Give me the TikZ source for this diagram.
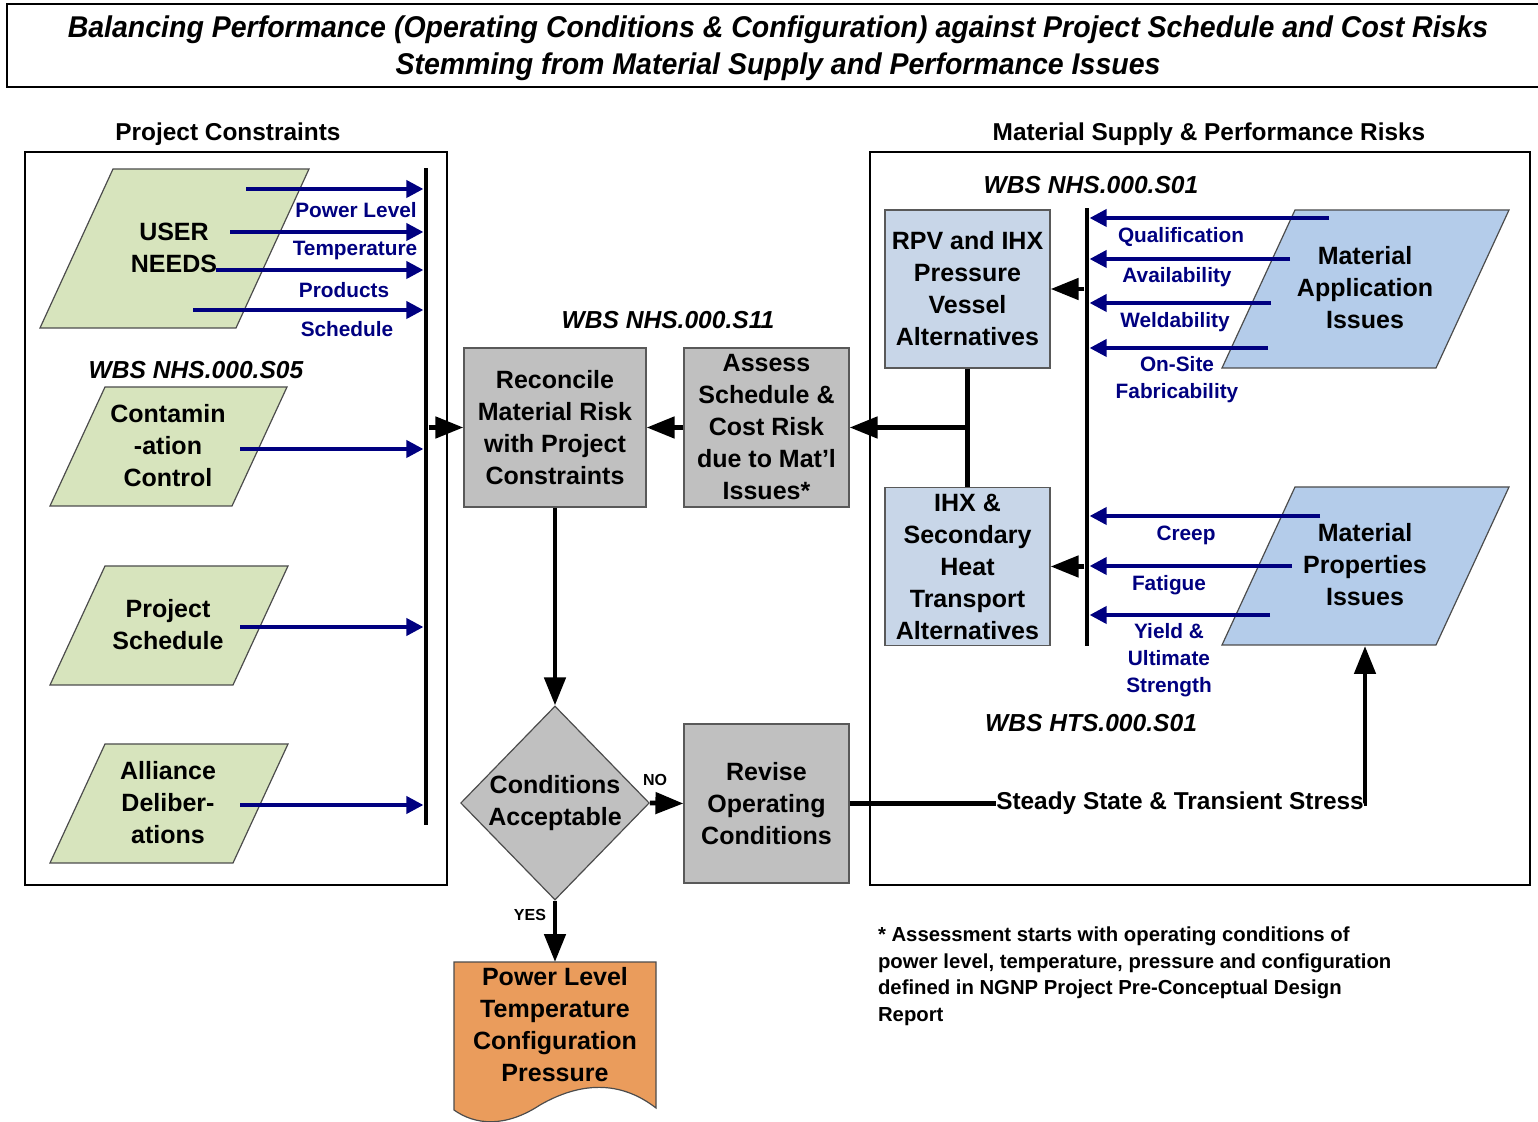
\documentclass[tikz,border=0pt]{standalone}
\usepackage{fontspec}
\setmainfont{Liberation Sans}
\newfontfamily\titlefam[FakeStretch=0.95]{Liberation Sans}
\usepackage{xcolor}
\usepackage{tikz}
\usetikzlibrary{arrows.meta, positioning, calc, shapes.geometric}
\definecolor{navy}{RGB}{0,0,128}
\definecolor{boxgray}{RGB}{192,192,192}
\definecolor{paleblue}{RGB}{200,214,232}
\definecolor{skyfill}{RGB}{180,204,234}
\definecolor{sage}{RGB}{215,228,189}
\definecolor{docorange}{RGB}{234,156,92}
\newcommand\fntbox{\bfseries\fontsize{12.5}{16}\selectfont}
\newcommand\fntrisk{\bfseries\fontsize{10.4}{13.5}\selectfont}
\newcommand\fnthead{\bfseries\fontsize{12.2}{14}\selectfont}
\newcommand\fntwbs{\bfseries\itshape\fontsize{12.3}{14}\selectfont}
\newcommand\fntnote{\bfseries\fontsize{10.15}{13.3}\selectfont}
\newcommand\fntyn{\bfseries\fontsize{8}{10}\selectfont}
\newcommand\fnttitle{\titlefam\bfseries\itshape\fontsize{15}{18.5}\selectfont}
\newcommand\fntstress{\bfseries\fontsize{12.2}{14}\selectfont}
\tikzset{
  panel/.style={draw, line width=0.6pt},
  bar/.style={fill=black, inner sep=0pt, minimum width=2.2pt},
  procbox/.style={draw=black!65, line width=0.6pt, fill=boxgray, align=center, inner sep=1pt, minimum width=82.5pt, minimum height=79.5pt, font=\fntbox},
  optbox/.style={procbox, fill=paleblue, minimum height=79pt},
  para/.style={draw=black!70, line width=0.6pt},
  paratxt/.style={align=center, inner sep=1pt, font=\fntbox},
  decision/.style={diamond, draw=black!70, line width=0.6pt, fill=boxgray, align=center, inner sep=0pt, minimum width=90pt, minimum height=97pt, font=\fntbox},
  docshape/.style={draw=black!70, line width=0.6pt, fill=docorange},
  feed/.style={-{Triangle[length=8.5pt, width=8.5pt]}, navy, line width=1.9pt},
  conn/.style={-{Triangle[length=14pt, width=10.5pt]}, line width=2.4pt},
  link/.style={line width=2.4pt},
  risklab/.style={text=navy, font=\fntrisk, align=center, inner sep=1pt},
  wbs/.style={font=\fntwbs},
  head/.style={font=\fnthead},
  yn/.style={font=\fntyn}
}
\begin{document}
\begin{tikzpicture}[x=0.5pt,y=-0.5pt]
    \useasboundingbox (0,0) rectangle (1538,1122);
    \draw[line width=1pt] (7,4) rectangle (1545,87);
    \node[font=\fnttitle, align=center] (title) at (778,48) {Balancing Performance (Operating Conditions \& Configuration) against Project Schedule and Cost Risks\\Stemming from Material Supply and Performance Issues};

    \draw[panel] (25,152) rectangle (447,885);
    \draw[panel] (870,152) rectangle (1530,885);
    \node[head] (lhead) at (228,134) {Project Constraints};
    \node[head] (rhead) at (1209,134) {Material Supply \& Performance Risks};

    % input and risk parallelograms
    \foreach \bx/\by/\s/\o/\h/\col in {40/328/196/73/159/sage,50/506/182/55/119/sage,50/685/183/55/119/sage,50/863/183/55/119/sage,1222/368/214/73/158/skyfill,1222/645/214/73/158/skyfill}{
        \filldraw[para, fill=\col] (\bx,\by) -- ++(\s,0) -- ++(\o,-\h) -- ++(-\s,0) -- cycle;
    }

    \node[bar, minimum height=328.5pt] (lbar) at (426,496.5) {};
    \node[bar, minimum height=219pt] (rbar) at (1087,427) {};

    % project constraints
    \node[paratxt] (user) at (174,248) {USER\\NEEDS};
    \foreach \sx/\sy/\lx/\ly/\txt in {246/189/356/210/Power Level,230/232/355/251/Temperature,216/270/344/290/Products,193/310/347/329/Schedule}{
        \coordinate (u\sy) at (\sx,\sy);
        \draw[feed] (u\sy) -- (u\sy -| lbar.west);
        \node[risklab] (ul\sy) at (\lx,\ly) {\txt};
    }
    \node[wbs] (wbsfive) at (196,370) {WBS NHS.000.S05};
    \node[paratxt] (contam) at (168,446) {Contamin\\-ation\\Control};
    \node[paratxt] (sched) at (168,624.5) {Project\\Schedule};
    \node[paratxt] (alliance) at (168,803) {Alliance\\Deliber-\\ations};
    \foreach \sy in {449,627,805}{
        \coordinate (c\sy) at (240,\sy);
        \draw[feed] (c\sy) -- (c\sy -| lbar.west);
    }

    % centre column
    \node[wbs] (wbseleven) at (668,320) {WBS NHS.000.S11};
    \node[procbox, minimum width=91pt] (recon) at (555,427.5) {Reconcile\\Material Risk\\with Project\\Constraints};
    \node[procbox] (assess) at (766.5,427.5) {Assess\\Schedule \&\\Cost Risk\\due to Mat'l\\Issues*};
    \node[decision] (cond) at (555,803) {Conditions\\Acceptable};
    \node[procbox] (revise) at (766.5,803.5) {Revise\\Operating\\Conditions};
    \path[docshape] (454,962) -- (656,962) -- (656,1108) .. controls (620,1080) and (580,1082) .. (540,1105) .. controls (505,1128) and (475,1125) .. (454,1110) -- cycle;
    \coordinate (doctop) at (555,962);
    \node[font=\fntbox, align=center] (result) at (555,1025) {Power Level\\Temperature\\Configuration\\Pressure};

    % material risks
    \node[wbs] (wbsone) at (1091,185) {WBS NHS.000.S01};
    \node[wbs] (wbshts) at (1091,723) {WBS HTS.000.S01};
    \node[optbox] (rpv) at (967.5,289) {RPV and IHX\\Pressure\\Vessel\\Alternatives};
    \node[optbox] (ihx) at (967.5,566.5) {IHX \&\\Secondary\\Heat\\Transport\\Alternatives};
    \node[paratxt] (matapp) at (1365,288) {Material\\Application\\Issues};
    \node[paratxt] (matprop) at (1365,565) {Material\\Properties\\Issues};
    \coordinate (propbase) at (1365,646);
    \foreach \sx/\sy/\lx/\ly/\txt in {1329/218/1181/237/Qualification,1290/259/1177/277/Availability,1271/303/1175/322/Weldability,1268/348/1177/379.5/{On-Site\\Fabricability},1320/516/1186/535/Creep,1292/566/1169/585/Fatigue,1270/615/1169/660/{Yield \&\\Ultimate\\Strength}}{
        \coordinate (r\sy) at (\sx,\sy);
        \draw[feed] (r\sy) -- (r\sy -| rbar.east);
        \node[risklab] (rl\sy) at (\lx,\ly) {\txt};
    }

    % flow
    \draw[conn] (lbar.east |- recon.west) -- (recon.west);
    \draw[conn] (assess.west) -- (recon.east);
    \draw[link] (rpv.south) -- (ihx.north);
    \coordinate (jn) at (rpv.south |- assess.east);
    \draw[conn] (jn) -- (assess.east);
    \draw[conn] (rbar.west |- rpv.east) -- (rpv.east);
    \draw[conn] (rbar.west |- ihx.east) -- (ihx.east);
    \draw[conn] (recon.south) -- (cond.north);
    \draw[conn] (cond.east) -- (revise.west);
    \node[yn] (nolab) at (655,780) {NO};
    \draw[conn] (cond.south) -- (doctop);
    \node[yn] (yeslab) at (530,915) {YES};
    \node[font=\fntstress, inner sep=0pt] (stress) at (1180,803.5) {Steady State \& Transient Stress};
    \draw[link] (revise.east) -- (stress.west);
    \draw[conn] (stress.east) -| (propbase);

    \node[font=\fntnote, align=left, anchor=north west] (note) at (871,920) {* Assessment starts with operating conditions of\\power level, temperature, pressure and configuration\\defined in NGNP Project Pre-Conceptual Design\\Report};
\end{tikzpicture}
\end{document}
